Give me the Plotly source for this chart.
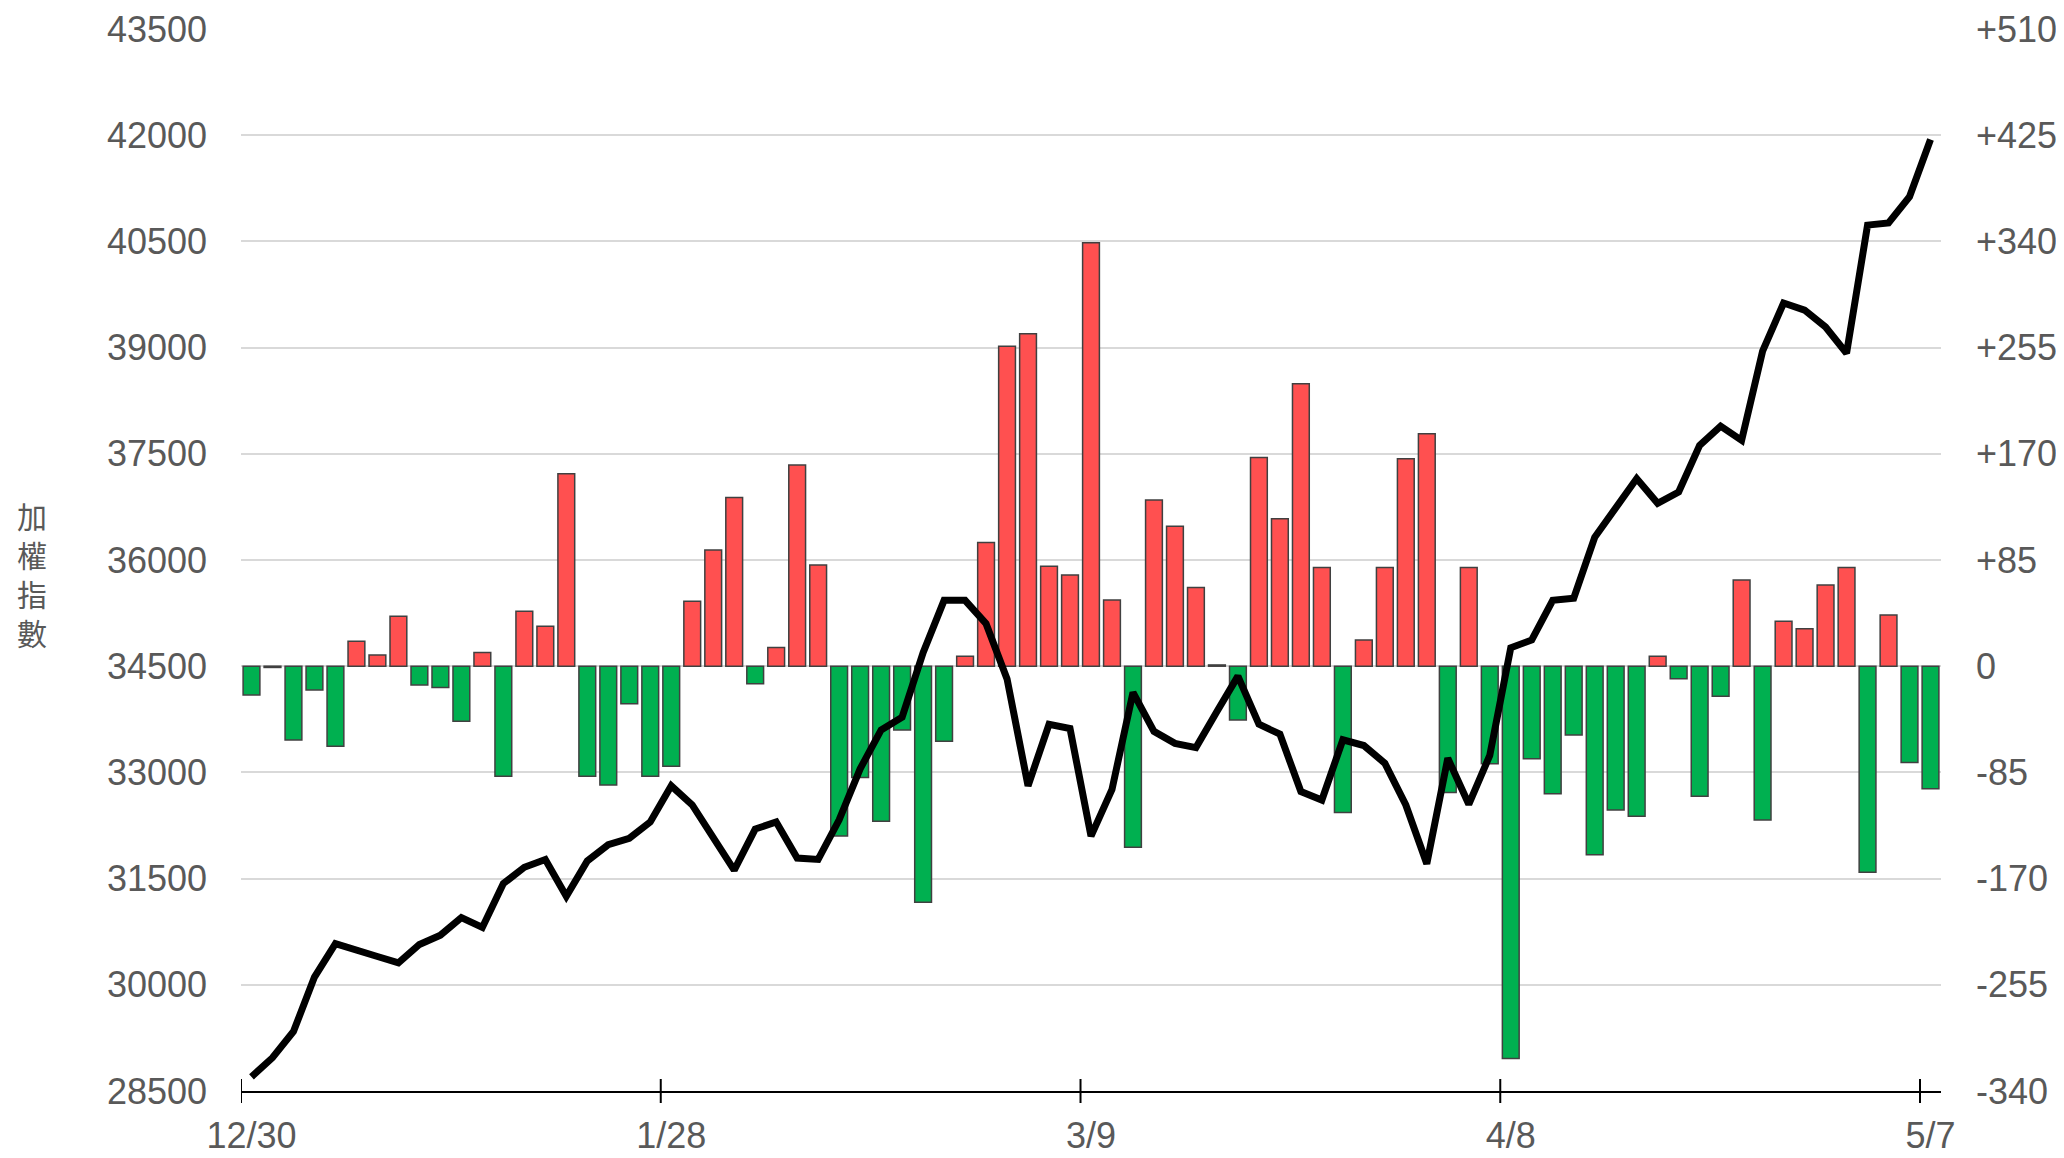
import plotly.graph_objects as go

# ---- data ----
tick_labels = ["12/30", "1/28", "3/9", "4/8", "5/7"]
tick_index = [0, 20, 40, 60, 80]

# daily change bars (right axis)
change = [-23, -1, -59, -19, -64, 20, 9, 40, -15, -17,
          -44, 11, -88, 44, 32, 154, -88, -95, -30, -88,
          -80, 52, 93, 135, -14, 15, 161, 81, -136, -89,
          -124, -51, -189, -60, 8, 99, 256, 266, 80, 73,
          339, 53, -145, 133, 112, 63, 1, -43, 167, 118,
          226, 79, -117, 21, 79, 166, 186, -101, 79, -78,
          -314, -74, -102, -55, -151, -115, -120, 8, -10, -104,
          -24, 69, -123, 36, 30, 65, 79, -165, 41, -77,
          -98]

# weighted index line (left axis)
index_vals = [28700, 28970, 29340, 30110, 30580, 30480, 30400, 30310, 30570, 30700,
              30950, 30810, 31430, 31660, 31770, 31250, 31750, 31980, 32070, 32300,
              32810, 32540, 32060, 31620, 32200, 32300, 31790, 31770, 32330, 33050,
              33600, 33780, 34690, 35430, 35430, 35100, 34320, 32810, 33680, 33620,
              32100, 32760, 34130, 33580, 33410, 33350, 33860, 34360, 33680, 33540,
              32730, 32610, 33460, 33380, 33130, 32540, 31710, 33200, 32550, 33240,
              34760, 34870, 35430, 35460, 36320, 36740, 37150, 36800, 36960, 37620,
              37890, 37690, 38950, 39630, 39530, 39290, 38920, 40730, 40760, 41130,
              41940]

left_ticks = [28500, 30000, 31500, 33000, 34500, 36000, 37500, 39000, 40500, 42000, 43500]
right_ticks = [-340, -255, -170, -85, 0, 85, 170, 255, 340, 425, 510]
y_title = "加權指數"

idx = list(range(len(change)))
RED = "#FF5050"
GREEN = "#00B050"
TXT = "#595959"
FONT = "Liberation Sans, Arial, sans-serif"


def padded(lo, hi):
    # tiny pad so that the end ticks survive float round-off
    e = (hi - lo) * 1e-6
    return [lo - e, hi + e]


fig = go.Figure()
fig.add_trace(go.Bar(
    x=idx, y=change, yaxis="y",
    marker=dict(color=[RED if v >= 0 else GREEN for v in change],
                line=dict(color="#404040", width=1.5)),
    width=0.8, showlegend=False, hoverinfo="skip"))
fig.add_trace(go.Scatter(
    x=idx, y=index_vals, yaxis="y2", mode="lines",
    line=dict(color="black", width=7), showlegend=False))

# the page body adds an 8px offset; margins are chosen for that
fig.update_layout(
    width=2064, height=1158, autosize=False,
    margin=dict(l=233, r=131, t=21, b=75),
    paper_bgcolor="white", plot_bgcolor="white",
    font=dict(family=FONT, size=36, color=TXT),
    xaxis=dict(range=[-0.5, len(change) - 0.5], tickmode="array",
               tickvals=tick_index, ticktext=tick_labels, ticks="",
               showline=True, linecolor="black", linewidth=2,
               showgrid=False, zeroline=False, automargin=False,
               ticklabeloverflow="allow",
               tickfont=dict(size=36, color=TXT, family=FONT),
               ticklabelstandoff=12),
    yaxis=dict(side="right", range=padded(right_ticks[0], right_ticks[-1]),
               tickmode="array", tickvals=right_ticks,
               ticktext=[("+%d" % v) if v > 0 else str(v) for v in right_ticks],
               showgrid=True, gridcolor="#D9D9D9", gridwidth=1.5,
               zeroline=False, ticks="", showline=False, automargin=False,
               ticklabeloverflow="allow",
               tickfont=dict(size=36, color=TXT, family=FONT),
               ticklabelstandoff=34),
    yaxis2=dict(overlaying="y", side="left", anchor="x",
                range=padded(left_ticks[0], left_ticks[-1]),
                tickmode="array", tickvals=left_ticks,
                ticktext=[str(v) for v in left_ticks],
                showgrid=False, zeroline=False, ticks="", showline=False,
                automargin=False, ticklabeloverflow="allow",
                tickfont=dict(size=36, color=TXT, family=FONT),
                ticklabelstandoff=33),
    bargap=0.2,
)

# tick marks at category boundaries, crossing the axis line
shapes = []
for i in tick_index:
    shapes.append(dict(type="line", xref="x", yref="paper",
                       x0=i - 0.5, x1=i - 0.5, ysizemode="pixel", yanchor=0,
                       y0=-12, y1=12, line=dict(color="black", width=2)))
fig.update_layout(shapes=shapes)

# vertical stacked y-axis title
fig.add_annotation(text="<br>".join(y_title), xref="paper", yref="paper",
                   x=0, y=0.485, xanchor="center", yanchor="middle",
                   xshift=-209, showarrow=False, align="center",
                   font=dict(family="Liberation Sans, Noto Sans CJK TC", size=30, color=TXT))

fig.write_html("out.html")
